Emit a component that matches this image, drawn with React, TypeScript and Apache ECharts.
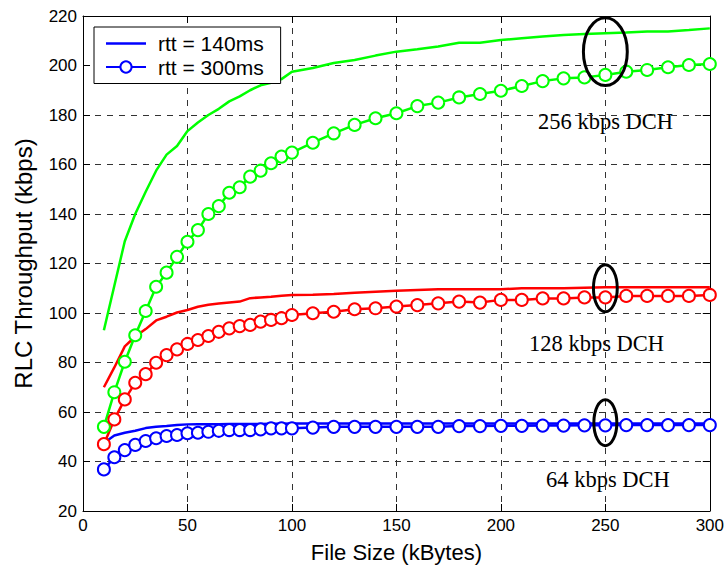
import React, { useEffect, useRef } from "react";
import * as echarts from "echarts";

const fileSizes = [10, 15, 20, 25, 30, 35, 40, 45, 50, 55, 60, 65, 70, 75, 80, 85, 90, 95, 100,
  110, 120, 130, 140, 150, 160, 170, 180, 190, 200, 210, 220, 230, 240, 250, 260, 270, 280, 290, 300];

// 256 kbps DCH
const g140 = [93, 111, 129, 140, 149, 157.5, 164, 167.5, 173.5, 177, 180, 182.5, 185.5, 187.5, 190, 192, 193, 194.5, 197.5,
  199, 201, 202.2, 204, 205.6, 206.6, 207.7, 209.2, 209.2, 210.3, 211, 211.7, 212.3, 212.7, 213, 213.3, 213.7, 213.7, 214.3, 215];
const g300 = [54, 68, 80.3, 91, 100.8, 110.6, 116.3, 122.7, 128.8, 133.5, 140, 143.2, 148.6, 150.8, 155.1, 157.5, 160.5, 163.2, 164.8,
  168.8, 172.6, 176, 178.7, 180.7, 183.6, 185, 187.1, 188.5, 189.8, 191.7, 193.7, 194.8, 195.2, 196.2, 197.5, 198.2, 199.3, 200.2, 200.6];
// 128 kbps DCH
const r140 = [70, 78, 86.5, 90.5, 93.5, 97, 98.5, 100.2, 101.2, 102.5, 103.3, 103.8, 104.2, 104.6, 106, 106.3, 106.6, 107, 107.3,
  107.4, 107.7, 108.2, 108.6, 109, 109.3, 109.6, 109.6, 109.6, 109.6, 110, 110, 110, 110.2, 110.4, 110.4, 110.4, 110.4, 110.4, 110.4];
const r300 = [47, 57, 65.1, 71.8, 75.3, 79.9, 83, 85.3, 87.5, 89.1, 90.7, 92.4, 93.8, 94.7, 95.2, 96.5, 97.2, 97.9, 99.2,
  99.9, 100.5, 101.5, 101.9, 102.6, 103.2, 103.9, 104.6, 104.2, 105.3, 105.3, 105.9, 105.9, 106.3, 106.3, 106.9, 106.9, 106.9, 106.9, 107.3];
// 64 kbps DCH
const b140 = [47.5, 50.5, 51.6, 52.4, 53.5, 54, 54.3, 54.7, 55, 55.1, 55.1, 55.1, 55.2, 55.2, 55.2, 55.2, 55.3, 55.3, 55.4,
  55.4, 55.4, 55.4, 55.4, 55.4, 55.4, 55.4, 55.4, 55.4, 55.4, 55.4, 55.4, 55.4, 55.4, 55.4, 55.4, 55.4, 55.4, 55.4, 55.4];
const b300 = [36.8, 41.7, 44.6, 46.7, 48.3, 49.4, 50.3, 50.7, 51.4, 51.6, 52, 52.4, 52.7, 52.7, 52.7, 53, 53.4, 53.4, 53.4,
  53.7, 54, 54, 54, 54, 54, 54, 54.3, 54.3, 54.4, 54.4, 54.5, 54.5, 54.6, 54.6, 54.7, 54.7, 54.7, 54.7, 54.7];

const legendNames = ["rtt = 140ms", "rtt = 300ms"];
const xTicks = [0, 50, 100, 150, 200, 250, 300];

// ellipse annotations: [x, y, radiusX, radiusY] in data units
const ellipseMarks = [
  [250, 205.6, 10.5, 13.7],
  [250, 110, 5.7, 9.5],
  [250, 55.7, 5.5, 9.3],
];
const dchLabels = ["256 kbps DCH", "128 kbps DCH", "64 kbps DCH"];

const pair = (ys: number[]) => fileSizes.map((x, i) => [x, ys[i]]);

export default function App() {
  const ref = useRef<HTMLDivElement>(null);
  useEffect(() => {
    if (!ref.current) return;
    const chart = echarts.init(ref.current, null, { renderer: "svg" });
    const sans = "Liberation Sans, Arial, sans-serif";
    const serif = "Liberation Serif, Times New Roman, serif";
    const solid = (name: string, color: string, ys: number[]) => ({
      name,
      type: "line",
      xAxisIndex: 0,
      yAxisIndex: 0,
      data: pair(ys),
      symbol: "none",
      lineStyle: { color, width: 2.5 },
      itemStyle: { color },
      z: 3,
    });
    const marked = (name: string, color: string, ys: number[]) => ({
      name,
      type: "line",
      xAxisIndex: 0,
      yAxisIndex: 0,
      data: pair(ys),
      symbol: "emptyCircle",
      symbolSize: 12,
      showAllSymbol: true,
      lineStyle: { color, width: 2.5 },
      itemStyle: { color, borderColor: color, borderWidth: 2.5 },
      z: 4,
    });
    const option: any = {
      animation: false,
      backgroundColor: "#fff",
      grid: { left: 83, top: 16, right: 17, bottom: 60, containLabel: false },
      legend: {
        data: [
          { name: legendNames[0], icon: "path://M0,0 L40,0 L40,2.5 L0,2.5 Z" },
          { name: legendNames[1] },
        ],
        orient: "vertical",
        left: 94,
        top: 27,
        padding: [6, 17, 6, 11],
        itemGap: 2.5,
        itemWidth: 40,
        itemHeight: 14,
        borderColor: "#000",
        borderWidth: 1,
        borderRadius: 0,
        backgroundColor: "#fff",
        selectedMode: false,
        textStyle: { fontFamily: sans, fontSize: 21, color: "#000", lineHeight: 21, padding: [0, 0, 0, 7] },
        z: 10,
      },
      xAxis: [
        {
          type: "value",
          min: 0,
          max: 300,
          interval: 50,
          name: "File Size (kBytes)",
          nameLocation: "middle",
          nameGap: 30,
          nameTextStyle: { fontFamily: sans, fontSize: 22, color: "#000" },
          axisLine: { show: true, onZero: false, lineStyle: { color: "#000", width: 1 } },
          axisTick: { show: true, inside: true, length: 7, lineStyle: { color: "#000" } },
          axisLabel: { fontFamily: sans, fontSize: 17, color: "#000", margin: 6,
            formatter: (v: number) => (xTicks.includes(v) ? String(v) : "") },
          splitLine: { show: true, lineStyle: { color: "#333", width: 1, type: [6, 6] } },
        },
        {
          type: "value",
          position: "top",
          min: 0,
          max: 300,
          interval: 50,
          axisLine: { show: true, onZero: false, lineStyle: { color: "#000", width: 1 } },
          axisTick: { show: true, inside: true, length: 7, lineStyle: { color: "#000" } },
          axisLabel: { show: false },
          splitLine: { show: false },
        },
      ],
      yAxis: [
        {
          type: "value",
          min: 20,
          max: 220,
          interval: 20,
          name: "RLC Throughput (kbps)",
          nameLocation: "middle",
          nameRotate: 90,
          nameGap: 48,
          nameTextStyle: { fontFamily: sans, fontSize: 24, color: "#000" },
          axisLine: { show: true, onZero: false, lineStyle: { color: "#000", width: 1 } },
          axisTick: { show: true, inside: true, length: 7, lineStyle: { color: "#000" } },
          axisLabel: { fontFamily: sans, fontSize: 17, color: "#000", margin: 6 },
          splitLine: { show: true, lineStyle: { color: "#333", width: 1, type: [6, 6] } },
        },
        {
          type: "value",
          position: "right",
          min: 20,
          max: 220,
          interval: 20,
          axisLine: { show: true, onZero: false, lineStyle: { color: "#000", width: 1 } },
          axisTick: { show: true, inside: true, length: 7, lineStyle: { color: "#000" } },
          axisLabel: { show: false },
          splitLine: { show: false },
        },
      ],
      series: [
        solid(legendNames[0], "#0000ff", b140),
        marked(legendNames[1], "#0000ff", b300),
        solid("256k-140", "#00ff00", g140),
        marked("256k-300", "#00ff00", g300),
        solid("128k-140", "#ff0000", r140),
        marked("128k-300", "#ff0000", r300),
        {
          name: "marks",
          type: "custom",
          xAxisIndex: 0,
          yAxisIndex: 0,
          data: ellipseMarks,
          encode: { x: 0, y: 1 },
          z: 6,
          renderItem: (params: any, api: any) => {
            const c = api.coord([api.value(0), api.value(1)]);
            const s = api.size([api.value(2), api.value(3)]);
            return {
              type: "ellipse",
              shape: { cx: c[0], cy: c[1], rx: s[0], ry: s[1] },
              style: { fill: "none", stroke: "#000", lineWidth: 3 },
            };
          },
        },
      ],
      graphic: [
        { type: "text", left: 538, top: 110, style: { text: dchLabels[0], fontFamily: serif, fontSize: 22.5, fill: "#000" } },
        { type: "text", left: 529, top: 332, style: { text: dchLabels[1], fontFamily: serif, fontSize: 22.5, fill: "#000" } },
        { type: "text", left: 546, top: 468, style: { text: dchLabels[2], fontFamily: serif, fontSize: 22.5, fill: "#000" } },
      ],
    };
    chart.setOption(option);
    return () => chart.dispose();
  }, []);
  return <div ref={ref} style={{ position: "absolute", left: 0, top: 0, width: 727, height: 571 }} />;
}
